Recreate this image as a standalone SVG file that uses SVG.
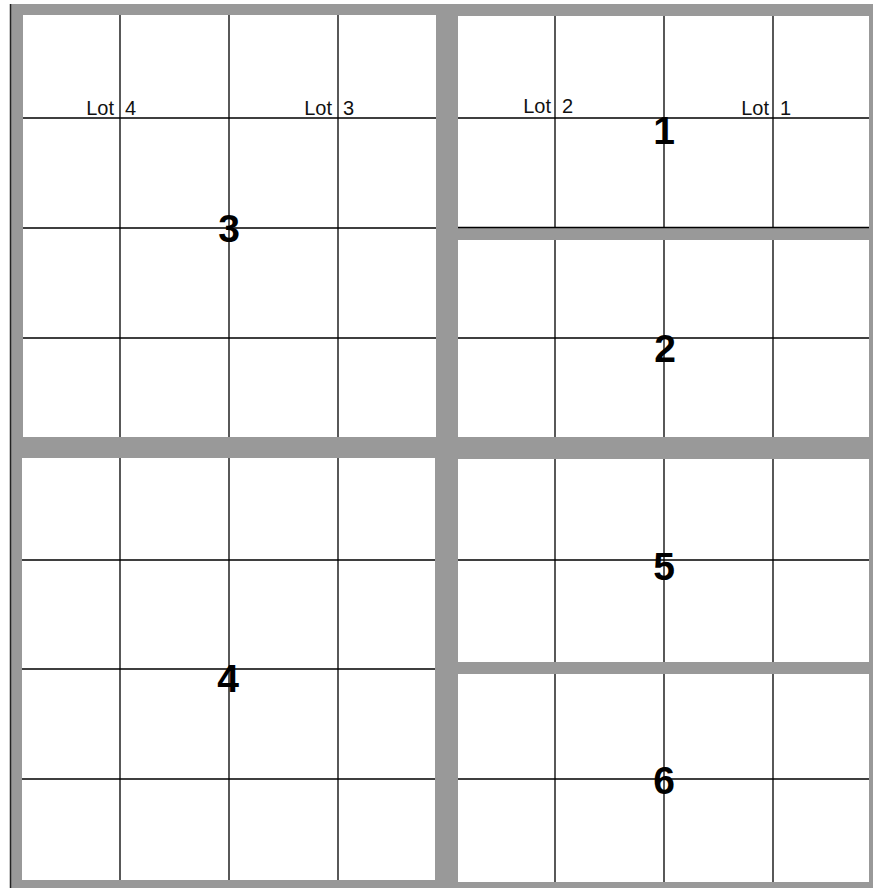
<svg xmlns="http://www.w3.org/2000/svg" width="873" height="888" viewBox="0 0 873 888">
<style>
.panel{fill:#fff}
.grid{stroke:#000;stroke-width:1.3;fill:none}
.lot{font-family:"Liberation Sans",Arial,sans-serif;font-size:20px;fill:#111}
.num{font-family:"Liberation Sans",Arial,sans-serif;font-size:39px;font-weight:bold;fill:#000;text-anchor:middle}
</style>
<rect x="0" y="0" width="873" height="888" fill="#fff"/>
<rect x="10" y="4" width="863" height="884" fill="#999"/>
<line x1="10.5" y1="4" x2="10.5" y2="888" stroke="#222" stroke-width="1.5"/>

<g id="panel3">
<rect class="panel" x="23" y="15" width="413" height="422"/>
<path class="grid" d="M120,15V437M229,15V437M338,15V437M23,118H436M23,228H436M23,338H436"/>
<text class="lot" x="114" y="115" text-anchor="end">Lot</text>
<text class="lot" x="125" y="115">4</text>
<text class="lot" x="332" y="115" text-anchor="end">Lot</text>
<text class="lot" x="343" y="115">3</text>
<text class="num" x="229" y="242">3</text>
</g>

<g id="panel4">
<rect class="panel" x="22" y="458" width="413" height="422"/>
<path class="grid" d="M120,458V880M229,458V880M338,458V880M22,560H435M22,669H435M22,779H435"/>
<text class="num" x="228" y="692">4</text>
</g>

<g id="panel1">
<rect class="panel" x="458" y="16" width="411" height="211"/>
<path class="grid" d="M555,16V227M664,16V227M773,16V227M458,118H869M458,227.5H869"/>
<text class="lot" x="551" y="113" text-anchor="end">Lot</text>
<text class="lot" x="562" y="113">2</text>
<text class="lot" x="769" y="115" text-anchor="end">Lot</text>
<text class="lot" x="780" y="115">1</text>
<text class="num" x="664" y="144">1</text>
</g>

<g id="panel2">
<rect class="panel" x="458" y="240" width="411" height="197"/>
<path class="grid" d="M555,240V437M664,240V437M773,240V437M458,338H869"/>
<text class="num" x="665" y="362">2</text>
</g>

<g id="panel5">
<rect class="panel" x="458" y="459" width="411" height="203"/>
<path class="grid" d="M555,459V662M664,459V662M773,459V662M458,560H869"/>
<text class="num" x="664" y="580">5</text>
</g>

<g id="panel6">
<rect class="panel" x="458" y="674" width="411" height="208"/>
<path class="grid" d="M555,674V882M664,674V882M773,674V882M458,779H869"/>
<text class="num" x="664" y="794">6</text>
</g>
</svg>
